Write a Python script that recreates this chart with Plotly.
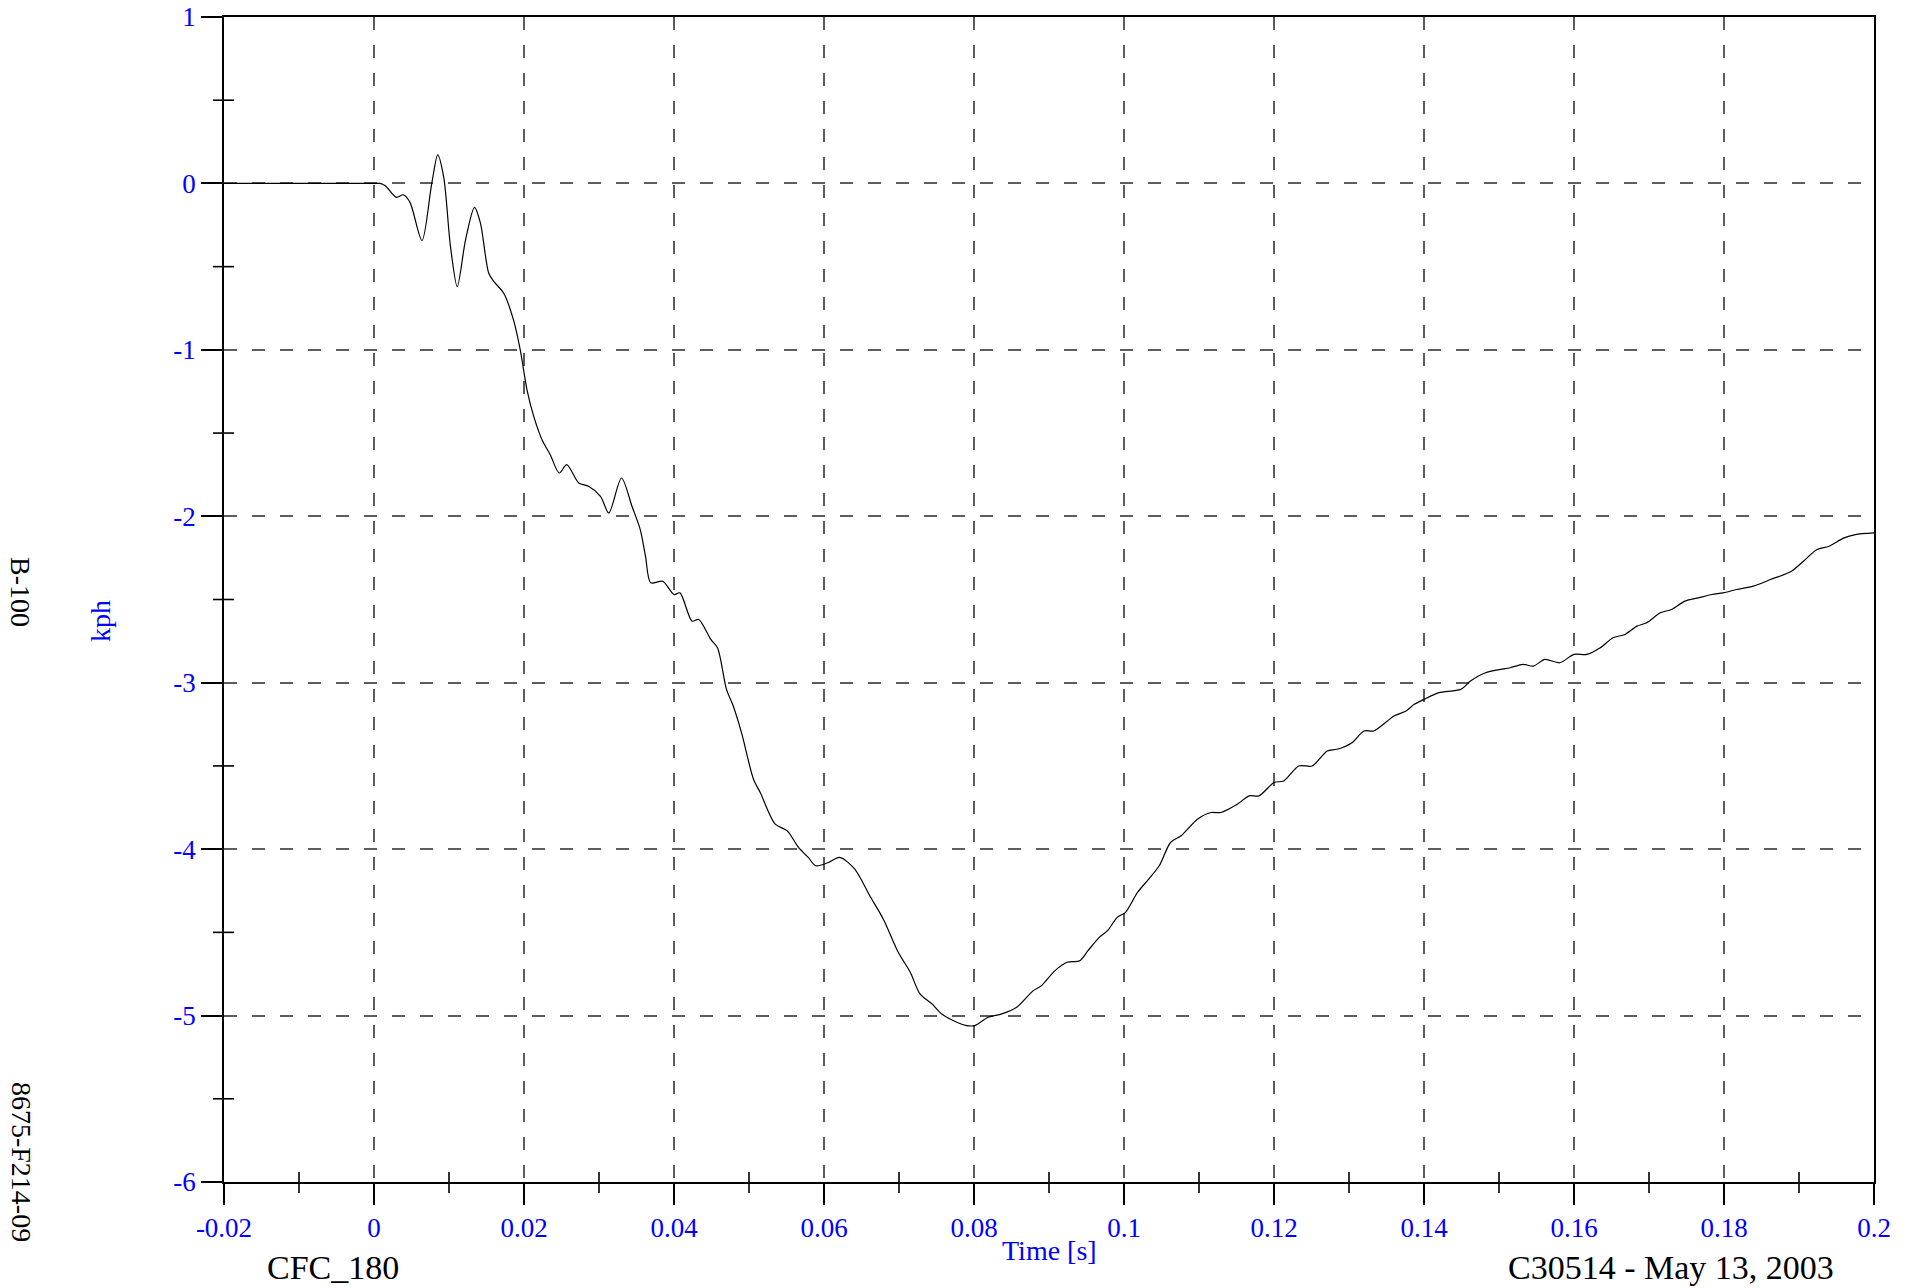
import plotly.graph_objects as go

# ---- data ----
time_s = [-0.02, -0.01, 0.0, 0.0008, 0.0015, 0.003, 0.0039, 0.0048, 0.0064, 0.0077,
          0.0085, 0.0093, 0.0102, 0.0111, 0.0122, 0.0134, 0.0142, 0.0153, 0.016, 0.0173,
          0.0186, 0.0195, 0.0204, 0.0213, 0.0224, 0.0235, 0.0247, 0.0257, 0.0273, 0.0286,
          0.0302, 0.0313, 0.033, 0.0344, 0.0355, 0.0362, 0.0369, 0.0385, 0.04, 0.0408,
          0.0424, 0.0433, 0.0449, 0.0458, 0.047, 0.0479, 0.049, 0.0506, 0.0515, 0.0535,
          0.0551, 0.0566, 0.0579, 0.0589, 0.0606, 0.0621, 0.0641, 0.0661, 0.0679, 0.0699,
          0.0715, 0.0728, 0.0744, 0.0757, 0.0777, 0.079, 0.0801, 0.0819, 0.0837, 0.0857,
          0.0879, 0.089, 0.0908, 0.0924, 0.0941, 0.0952, 0.0967, 0.0978, 0.0991, 0.1002,
          0.1018, 0.1033, 0.1047, 0.1062, 0.1076, 0.1098, 0.1116, 0.1129, 0.1151, 0.1167,
          0.118, 0.12, 0.1213, 0.1233, 0.1251, 0.1271, 0.1284, 0.1304, 0.132, 0.1333,
          0.136, 0.1376, 0.1387, 0.14, 0.142, 0.1449, 0.1462, 0.1482, 0.1502, 0.1515,
          0.1532, 0.1546, 0.1561, 0.1581, 0.16, 0.1617, 0.1635, 0.1652, 0.1668, 0.1684,
          0.1697, 0.1715, 0.173, 0.1748, 0.1766, 0.1784, 0.1799, 0.1817, 0.1839, 0.1862,
          0.189, 0.1906, 0.1924, 0.194, 0.196, 0.1975, 0.2]
speed_kph = [0.0, 0.0, 0.0, 0.0, -0.014, -0.084, -0.068, -0.114, -0.343, 0.0,
             0.172, 0.036, -0.38, -0.62, -0.34, -0.144, -0.24, -0.54, -0.59, -0.66,
             -0.82, -1.0, -1.24, -1.40, -1.54, -1.63, -1.74, -1.69, -1.80, -1.82,
             -1.88, -1.98, -1.77, -1.94, -2.08, -2.24, -2.40, -2.39, -2.47, -2.46,
             -2.63, -2.62, -2.74, -2.79, -3.04, -3.14, -3.30, -3.58, -3.66, -3.85,
             -3.89, -3.99, -4.05, -4.10, -4.08, -4.05, -4.12, -4.28, -4.42, -4.62,
             -4.74, -4.87, -4.93, -4.99, -5.04, -5.06, -5.06, -5.01, -4.99, -4.95,
             -4.85, -4.82, -4.73, -4.68, -4.67, -4.61, -4.53, -4.49, -4.41, -4.38,
             -4.26, -4.18, -4.10, -3.96, -3.92, -3.82, -3.78, -3.78, -3.73, -3.68,
             -3.68, -3.60, -3.59, -3.50, -3.50, -3.41, -3.40, -3.36, -3.29, -3.29,
             -3.20, -3.17, -3.13, -3.10, -3.06, -3.04, -2.99, -2.94, -2.92, -2.91,
             -2.89, -2.90, -2.86, -2.88, -2.83, -2.83, -2.79, -2.73, -2.71, -2.66,
             -2.64, -2.58, -2.56, -2.51, -2.49, -2.47, -2.46, -2.44, -2.42, -2.38,
             -2.33, -2.27, -2.20, -2.18, -2.13, -2.11, -2.10]

x_ticks = [-0.02, 0.0, 0.02, 0.04, 0.06, 0.08, 0.1, 0.12, 0.14, 0.16, 0.18, 0.2]
x_ticklabels = ["-0.02", "0", "0.02", "0.04", "0.06", "0.08", "0.1", "0.12", "0.14", "0.16", "0.18", "0.2"]
x_minor = [-0.01, 0.01, 0.03, 0.05, 0.07, 0.09, 0.11, 0.13, 0.15, 0.17, 0.19]
y_ticks = [1, 0, -1, -2, -3, -4, -5, -6]
y_ticklabels = ["1", "0", "-1", "-2", "-3", "-4", "-5", "-6"]
y_minor = [0.5, -0.5, -1.5, -2.5, -3.5, -4.5, -5.5]

FONT = "Liberation Serif, Times New Roman, serif"
BLUE = "#0000ff"

fig = go.Figure()
fig.add_trace(go.Scatter(x=time_s, y=speed_kph, mode="lines",
                         line=dict(color="#000000", width=1.2, shape="spline", smoothing=0.8),
                         showlegend=False, hoverinfo="skip"))

axis_common = dict(
    showline=True, linecolor="#000000", linewidth=1.6, mirror=True,
    ticks="outside", ticklen=21, tickwidth=1.6, tickcolor="#000000",
    showgrid=True, gridcolor="#5c5c5c", gridwidth=1.6, griddash="13px,15px",
    zeroline=False, automargin=False,
    tickfont=dict(family=FONT, size=27, color=BLUE),
)

fig.update_xaxes(range=[-0.02, 0.2], tickmode="array", tickvals=x_ticks,
                 ticktext=x_ticklabels, **axis_common)
fig.update_yaxes(range=[-6, 1], tickmode="array", tickvals=y_ticks,
                 ticktext=y_ticklabels, **axis_common)

# minor ticks crossing the axes
shapes = []
for xv in x_minor:
    shapes.append(dict(type="line", xref="x", yref="paper", x0=xv, x1=xv,
                       y0=-0.0095, y1=0.0086, line=dict(color="#000000", width=1.6)))
for yv in y_minor:
    shapes.append(dict(type="line", xref="paper", yref="y", x0=-0.0067, x1=0.0061,
                       y0=yv, y1=yv, line=dict(color="#000000", width=1.6)))
fig.update_layout(shapes=shapes)

annotations = [
    dict(text="Time [s]", x=0.5, y=-0.0584, font=dict(family=FONT, size=28, color=BLUE), textangle=0),
    dict(text="kph", x=-0.0752, y=0.4815, font=dict(family=FONT, size=28, color=BLUE), textangle=-90),
    dict(text="B-100", x=-0.123, y=0.5064, font=dict(family=FONT, size=28, color="#000000"), textangle=90),
    dict(text="8675-F214-09", x=-0.123, y=0.0172, font=dict(family=FONT, size=28, color="#000000"), textangle=90),
    dict(text="CFC_180", x=0.066, y=-0.0738, font=dict(family=FONT, size=34, color="#000000"), textangle=0),
    dict(text="C30514 - May 13, 2003", x=0.877, y=-0.0738, font=dict(family=FONT, size=34, color="#000000"), textangle=0),
]
for a in annotations:
    a.update(xref="paper", yref="paper", xanchor="center", yanchor="middle", showarrow=False)
fig.update_layout(annotations=annotations)

fig.update_layout(
    width=1916, height=1288,
    margin=dict(l=224, r=42, t=17, b=106, autoexpand=False),
    paper_bgcolor="#ffffff", plot_bgcolor="#ffffff",
    font=dict(family=FONT),
)

fig.write_html("out.html", config={"displayModeBar": False},
               post_script="document.body.style.margin='0px';document.body.style.overflow='hidden';")
